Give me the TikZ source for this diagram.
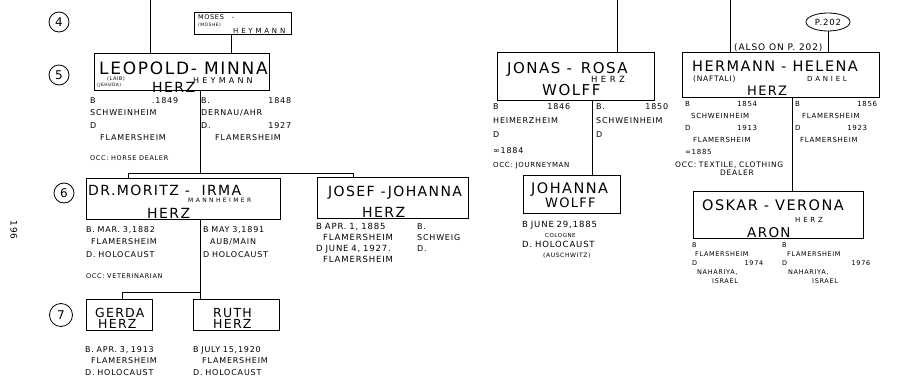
\documentclass[tikz,border=0pt]{standalone}
\usepackage{fontspec}
\setmainfont{DejaVu Sans}[LetterSpace=10]
\usetikzlibrary{shapes.geometric}

\begin{document}
\begin{tikzpicture}[
		x=1pt, y=-1pt,
		box/.style 2 args={draw, line width=0.9pt, inner sep=0pt, minimum width=#1pt, minimum height=#2pt},
		tree/.style={line width=0.8pt},
		txt/.style={inner sep=0pt, anchor=base west, font=\fontsize{#1}{#1}\selectfont},
		spaced/.style={inner sep=0pt, anchor=base west, font=\fontsize{#1}{#1}\selectfont\addfontfeature{LetterSpace=40}},
		info/.style n args={3}{inner sep=0pt, anchor=base west, align=left, text width=#1pt, font=\fontsize{#2}{#3}\selectfont},
		gen/.style={draw, circle, line width=0.8pt, inner sep=0pt, minimum size=20pt, font=\fontsize{12}{12}\selectfont}
		]
		
		\useasboundingbox (0,0) rectangle (919,388);
		
		% ---- generation numbers ----
		\node[gen] (g4) at (59,22) {4};
		\node[gen] (g5) at (59,75) {5};
		\node[gen] (g6) at (64,193) {6};
		\node[gen, minimum size=23pt] (g7) at (61,315) {7};
		\node[inner sep=0pt, rotate=-90, font=\fontsize{9}{9}\selectfont] (pageno) at (14,230) {196};
		
		% ---- Herz / Heymann ----
		\coordinate (topL) at (150,0);
		\node[box={97}{22}] (moses) at (242.5,23) {};
		\node[txt=6.5] (mosesA) at (198,19.5) {MOSES \ \ -};
		\node[txt=4.5] (mosesB) at (198,27) {(MOSHE)};
		\node[spaced=7] (mosesC) at (233,33) {HEYMANN};
		
		\node[box={175}{37}] (leopold) at (181.5,71.5) {};
		\node[txt=17] (leopoldA) at (99,74) {LEOPOLD- MINNA};
		\node[txt=5] (leopoldB) at (107,80.5) {(LAIB)};
		\node[txt=4.5] (leopoldC) at (97,86) {(JEHUDA)};
		\node[spaced=8] (leopoldD) at (193,83.5) {HEYMANN};
		\node[txt=14] (leopoldE) at (152,92) {HERZ};
		
		\node[info={88}{8}{12.5}] (leopoldL) at (90,103) {B\hfill .1849\\ SCHWEINHEIM\\ D\\ \hspace*{10pt}FLAMERSHEIM\\[7pt] {\fontsize{6.5}{8}\selectfont OCC: HORSE DEALER}};
		\node[info={96}{8}{12.5}] (leopoldR) at (201,103) {B.\hfill 1848\hspace*{6pt}\mbox{}\\ DERNAU/AHR\\ D.\hfill 1927\hspace*{6pt}\mbox{}\\ \hspace*{14pt}FLAMERSHEIM};
		
		\draw[tree] (topL) -- (topL |- leopold.north);
		\draw[tree] ([xshift=-11.5pt]moses.south) -- ([xshift=-11.5pt]moses.south |- leopold.north);
		
		\coordinate (fam5) at (200,173);
		\coordinate (fam5L) at (128,173);
		\coordinate (fam5R) at (353,173);
		
		\node[box={194}{41}] (moritz) at (183,198.5) {};
		\node[txt=14] (moritzA) at (88,195) {DR.MORITZ - \ IRMA};
		\node[spaced=6] (moritzB) at (188,202.5) {MANNHEIMER};
		\node[txt=14] (moritzC) at (147,218) {HERZ};
		\node[info={84}{8}{12}] (moritzL) at (86,232) {B. MAR. 3,1882\\ \hspace*{5pt}FLAMERSHEIM\\[1pt] D. HOLOCAUST\\[9pt] {\fontsize{6.5}{8}\selectfont OCC: VETERINARIAN}};
		\node[info={84}{8}{12}] (moritzR) at (203,232) {B MAY 3,1891\\ \hspace*{7pt}AUB/MAIN\\[1pt] D HOLOCAUST};
		
		\node[box={151}{41}] (josef) at (392.5,197.5) {};
		\node[txt=14] (josefA) at (328,196) {JOSEF -JOHANNA};
		\node[txt=14] (josefB) at (362,217) {HERZ};
		\node[info={90}{8.5}{11}] (josefL) at (316,229) {B APR. 1, 1885\\ \hspace*{7pt}FLAMERSHEIM\\ D JUNE 4, 1927.\\ \hspace*{7pt}FLAMERSHEIM};
		\node[info={50}{8}{11}] (josefR) at (417,229) {B.\\ SCHWEIG\\ D.};
		
		\draw[tree] (leopold.south -| fam5) -- (fam5);
		\draw[tree] (fam5L |- moritz.north) -- (fam5L) -- (fam5R) -- (fam5R |- josef.north);
		
		\coordinate (fam6) at (200,292);
		\coordinate (fam6L) at (122,292);
		
		\node[box={66}{31}] (gerda) at (119,314.5) {};
		\node[txt=12.5] (gerdaA) at (95,317) {GERDA};
		\node[txt=12.5] (gerdaB) at (98,328.5) {HERZ};
		\node[info={90}{8}{11.5}] (gerdaL) at (85,352) {B. APR. 3, 1913\\ \hspace*{6pt}FLAMERSHEIM\\ D. HOLOCAUST};
		
		\node[box={86}{31}] (ruth) at (236,314.5) {};
		\node[txt=12.5] (ruthA) at (213,317) {RUTH};
		\node[txt=12.5] (ruthB) at (213,328.5) {HERZ};
		\node[info={90}{8}{11.5}] (ruthL) at (193,352) {B JULY 15,1920\\ \hspace*{9pt}FLAMERSHEIM\\ D. HOLOCAUST};
		
		\draw[tree] (moritz.south -| fam6) -- (fam6 |- ruth.north);
		\draw[tree] (fam6) -- (fam6L) -- (fam6L |- gerda.north);
		
		% ---- Wolff ----
		\coordinate (topJ) at (617,0);
		\node[box={157}{48}] (jonas) at (575.5,76) {};
		\node[txt=15] (jonasA) at (507,73) {JONAS - \,ROSA};
		\node[spaced=8.5] (jonasB) at (591,82) {HERZ};
		\node[txt=15] (jonasC) at (542,95) {WOLFF};
		\node[info={100}{8}{14}] (jonasL) at (493,109) {B\hfill 1846\hspace*{23pt}\mbox{}\\ HEIMERZHEIM\\ D\\[2pt] ∞1884\\ {\fontsize{7}{8}\selectfont OCC: JOURNEYMAN}};
		\node[info={80}{8}{14}] (jonasR) at (596,109) {B.\hfill 1850\hspace*{8pt}\mbox{}\\ SCHWEINHEIM\\ D};
		
		\coordinate (famJ) at (592,140);
		\node[box={97}{38}] (johanna) at (571.5,194) {};
		\node[txt=14.5] (johannaA) at (531,193) {JOHANNA};
		\node[txt=13] (johannaB) at (545,207) {WOLFF};
		\node[info={100}{8.5}{10}] (johannaL) at (522,227) {B JUNE 29,1885\\ \hspace*{23pt}{\fontsize{5.5}{6}\selectfont COLOGNE}\\ D. HOLOCAUST\\ \hspace*{21pt}{\fontsize{6}{6}\selectfont (AUSCHWITZ)}};
		
		\draw[tree] (topJ) -- (topJ |- jonas.north);
		\draw[tree] (jonas.south -| famJ) -- (johanna.north -| famJ);
		
		% ---- Herz / Daniel ----
		\coordinate (topH) at (730,0);
		\node[draw, ellipse, line width=0.8pt, inner sep=1pt, minimum width=44pt, minimum height=18pt, font=\fontsize{8.5}{8.5}\selectfont] (p202) at (828,22) {P.202};
		\node[txt=9] (alsoP) at (734,50) {(ALSO ON P. 202)};
		
		\node[box={197}{45}] (hermann) at (780.5,74.5) {};
		\node[txt=14.5] (hermannA) at (692,71) {HERMANN - HELENA};
		\node[txt=7.5] (hermannB) at (693,81) {(NAFTALI)};
		\node[spaced=7] (hermannC) at (807,81) {DANIEL};
		\node[txt=13] (hermannD) at (747,95) {HERZ};
		\node[info={72}{7}{12}] (hermannL) at (685,106) {B\hfill 1854\\ \hspace*{6pt}SCHWEINHEIM\\ D\hfill 1913\\ \hspace*{8pt}FLAMERSHEIM\\ ∞1885};
		\node[info={125}{7.5}{8}] (hermannO) at (675,167) {OCC: TEXTILE, CLOTHING\\ \hspace*{45pt}DEALER};
		\node[info={82}{7}{12}] (hermannR) at (795,106) {B\hfill 1856\\ \hspace*{7pt}FLAMERSHEIM\\ D\hfill 1923\hspace*{10pt}\mbox{}\\ \hspace*{5pt}FLAMERSHEIM};
		
		\draw[tree] (topH) -- (topH |- hermann.north);
		\draw[tree] (p202.south) -- (p202.south |- hermann.north);
		
		\coordinate (famH) at (792,150);
		\node[box={170}{47}] (oskar) at (778,214.5) {};
		\node[txt=14.5] (oskarA) at (702,210) {OSKAR - VERONA};
		\node[spaced=7] (oskarB) at (795,222) {HERZ};
		\node[txt=13.5] (oskarC) at (747,237) {ARON};
		\node[info={75}{6.5}{9}] (oskarL) at (692,247) {B\\ \hspace*{3pt}FLAMERSHEIM\\ D\hfill 1974\hspace*{4pt}\mbox{}\\ \hspace*{5pt}NAHARIYA,\\ \hspace*{20pt}ISRAEL};
		\node[info={88}{6.5}{9}] (oskarR) at (782,247) {B\\ \hspace*{5pt}FLAMERSHEIM\\ D\hfill 1976\\ \hspace*{6pt}NAHARIYA,\\ \hspace*{30pt}ISRAEL};
		
		\draw[tree] (hermann.south -| famH) -- (oskar.north -| famH);
		
	\end{tikzpicture}
\end{document}
